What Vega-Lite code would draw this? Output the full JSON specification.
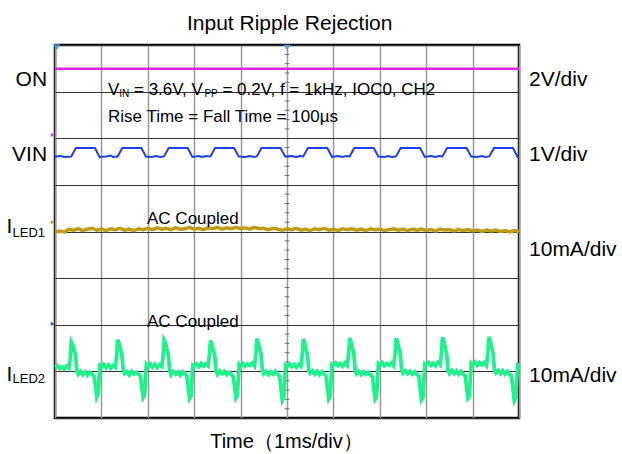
{
  "$schema": "https://vega.github.io/schema/vega-lite/v6.json",
  "width": 464,
  "height": 373,
  "autosize": {"type": "none"},
  "padding": {"left": 55, "top": 45, "right": 103, "bottom": 36},
  "background": "white",
  "config": {
    "view": {"stroke": "#000", "strokeWidth": 2.5},
    "text": {"font": "Liberation Sans", "color": "#000"}
  },
  "datasets": {
    "on": [{"t": 0, "v": 7.49}, {"t": 10, "v": 7.49}],
    "vin": [
      {"t": 0, "v": 5.61}, {"t": 0.12, "v": 5.62}, {"t": 0.2, "v": 5.6}, {"t": 0.35, "v": 5.61}, {"t": 0.45, "v": 5.79}, {"t": 0.86, "v": 5.79}, {"t": 0.96, "v": 5.6},
      {"t": 1.1, "v": 5.61}, {"t": 1.2, "v": 5.63}, {"t": 1.25, "v": 5.6}, {"t": 1.35, "v": 5.61}, {"t": 1.45, "v": 5.79}, {"t": 1.86, "v": 5.79}, {"t": 1.96, "v": 5.61},
      {"t": 2.08, "v": 5.6}, {"t": 2.18, "v": 5.62}, {"t": 2.27, "v": 5.6}, {"t": 2.35, "v": 5.61}, {"t": 2.45, "v": 5.79}, {"t": 2.86, "v": 5.79}, {"t": 2.96, "v": 5.6},
      {"t": 3.1, "v": 5.62}, {"t": 3.17, "v": 5.6}, {"t": 3.26, "v": 5.62}, {"t": 3.35, "v": 5.61}, {"t": 3.45, "v": 5.79}, {"t": 3.86, "v": 5.79}, {"t": 3.96, "v": 5.61},
      {"t": 4.1, "v": 5.6}, {"t": 4.2, "v": 5.62}, {"t": 4.28, "v": 5.6}, {"t": 4.35, "v": 5.61}, {"t": 4.45, "v": 5.79}, {"t": 4.86, "v": 5.79}, {"t": 4.96, "v": 5.61},
      {"t": 5.1, "v": 5.62}, {"t": 5.2, "v": 5.6}, {"t": 5.28, "v": 5.62}, {"t": 5.35, "v": 5.61}, {"t": 5.45, "v": 5.79}, {"t": 5.87, "v": 5.79}, {"t": 5.97, "v": 5.6},
      {"t": 6.1, "v": 5.62}, {"t": 6.2, "v": 5.6}, {"t": 6.27, "v": 5.62}, {"t": 6.35, "v": 5.61}, {"t": 6.45, "v": 5.79}, {"t": 6.87, "v": 5.79}, {"t": 6.97, "v": 5.61},
      {"t": 7.1, "v": 5.6}, {"t": 7.18, "v": 5.62}, {"t": 7.26, "v": 5.6}, {"t": 7.35, "v": 5.61}, {"t": 7.45, "v": 5.79}, {"t": 7.87, "v": 5.79}, {"t": 7.97, "v": 5.6},
      {"t": 8.1, "v": 5.62}, {"t": 8.2, "v": 5.6}, {"t": 8.28, "v": 5.62}, {"t": 8.35, "v": 5.61}, {"t": 8.45, "v": 5.79}, {"t": 8.87, "v": 5.79}, {"t": 8.97, "v": 5.61},
      {"t": 9.1, "v": 5.6}, {"t": 9.2, "v": 5.62}, {"t": 9.27, "v": 5.6}, {"t": 9.36, "v": 5.61}, {"t": 9.46, "v": 5.79}, {"t": 9.87, "v": 5.79}, {"t": 9.97, "v": 5.6}, {"t": 10, "v": 5.6}
    ],
    "i1": [
      {"t": 0.0, "v": 3.99}, {"t": 0.1, "v": 4.01}, {"t": 0.2, "v": 3.99}, {"t": 0.3, "v": 4.05}, {"t": 0.4, "v": 4.03}, {"t": 0.5, "v": 4.06}, {"t": 0.6, "v": 4.02}, {"t": 0.7, "v": 4.05}, {"t": 0.8, "v": 4.07}, {"t": 0.9, "v": 4.03},
      {"t": 1.0, "v": 4.05}, {"t": 1.1, "v": 4.02}, {"t": 1.2, "v": 4.06}, {"t": 1.3, "v": 4.04}, {"t": 1.4, "v": 4.07}, {"t": 1.5, "v": 4.03}, {"t": 1.6, "v": 4.05}, {"t": 1.7, "v": 4.02}, {"t": 1.8, "v": 4.06}, {"t": 1.9, "v": 4.04},
      {"t": 2.0, "v": 4.07}, {"t": 2.1, "v": 4.04}, {"t": 2.2, "v": 4.08}, {"t": 2.3, "v": 4.05}, {"t": 2.4, "v": 4.07}, {"t": 2.5, "v": 4.04}, {"t": 2.6, "v": 4.08}, {"t": 2.7, "v": 4.05}, {"t": 2.8, "v": 4.06}, {"t": 2.9, "v": 4.09},
      {"t": 3.0, "v": 4.05}, {"t": 3.1, "v": 4.07}, {"t": 3.2, "v": 4.04}, {"t": 3.3, "v": 4.08}, {"t": 3.4, "v": 4.06}, {"t": 3.5, "v": 4.09}, {"t": 3.6, "v": 4.05}, {"t": 3.7, "v": 4.08}, {"t": 3.8, "v": 4.06}, {"t": 3.9, "v": 4.09},
      {"t": 4.0, "v": 4.06}, {"t": 4.1, "v": 4.08}, {"t": 4.2, "v": 4.05}, {"t": 4.3, "v": 4.09}, {"t": 4.4, "v": 4.06}, {"t": 4.5, "v": 4.07}, {"t": 4.6, "v": 4.04}, {"t": 4.7, "v": 4.07}, {"t": 4.8, "v": 4.05}, {"t": 4.9, "v": 4.03},
      {"t": 5.0, "v": 4.06}, {"t": 5.1, "v": 4.04}, {"t": 5.2, "v": 4.07}, {"t": 5.3, "v": 4.03}, {"t": 5.4, "v": 4.05}, {"t": 5.5, "v": 4.02}, {"t": 5.6, "v": 4.06}, {"t": 5.7, "v": 4.04}, {"t": 5.8, "v": 4.07}, {"t": 5.9, "v": 4.03},
      {"t": 6.0, "v": 4.05}, {"t": 6.1, "v": 4.02}, {"t": 6.2, "v": 4.06}, {"t": 6.3, "v": 4.04}, {"t": 6.4, "v": 4.06}, {"t": 6.5, "v": 4.03}, {"t": 6.6, "v": 4.05}, {"t": 6.7, "v": 4.02}, {"t": 6.8, "v": 4.06}, {"t": 6.9, "v": 4.04},
      {"t": 7.0, "v": 4.05}, {"t": 7.1, "v": 4.02}, {"t": 7.2, "v": 4.04}, {"t": 7.3, "v": 4.06}, {"t": 7.4, "v": 4.03}, {"t": 7.5, "v": 4.05}, {"t": 7.6, "v": 4.02}, {"t": 7.7, "v": 4.05}, {"t": 7.8, "v": 4.03}, {"t": 7.9, "v": 4.05},
      {"t": 8.0, "v": 4.02}, {"t": 8.1, "v": 4.04}, {"t": 8.2, "v": 4.01}, {"t": 8.3, "v": 4.05}, {"t": 8.4, "v": 4.03}, {"t": 8.5, "v": 4.04}, {"t": 8.6, "v": 4.01}, {"t": 8.7, "v": 4.04}, {"t": 8.8, "v": 4.02}, {"t": 8.9, "v": 4.04},
      {"t": 9.0, "v": 4.01}, {"t": 9.1, "v": 4.03}, {"t": 9.2, "v": 4.0}, {"t": 9.3, "v": 4.03}, {"t": 9.4, "v": 4.01}, {"t": 9.5, "v": 4.03}, {"t": 9.6, "v": 4.0}, {"t": 9.7, "v": 4.02}, {"t": 9.8, "v": 3.99}, {"t": 9.9, "v": 4.02}, {"t": 10.0, "v": 4.0}
    ],
    "i2": [
      {"t": 0.0, "v": 1.09}, {"t": 0.05, "v": 1.12}, {"t": 0.10, "v": 1.06}, {"t": 0.15, "v": 1.10}, {"t": 0.20, "v": 1.05}, {"t": 0.25, "v": 1.11}, {"t": 0.30, "v": 1.07}, {"t": 0.33, "v": 1.30}, {"t": 0.35, "v": 1.63}, {"t": 0.38, "v": 1.57}, {"t": 0.41, "v": 1.46}, {"t": 0.44, "v": 1.36}, {"t": 0.47, "v": 1.02}, {"t": 0.50, "v": 0.94}, {"t": 0.55, "v": 1.00}, {"t": 0.60, "v": 0.93}, {"t": 0.65, "v": 0.99}, {"t": 0.70, "v": 0.92}, {"t": 0.75, "v": 0.98}, {"t": 0.80, "v": 0.94}, {"t": 0.84, "v": 0.90}, {"t": 0.87, "v": 0.70}, {"t": 0.90, "v": 0.45}, {"t": 0.93, "v": 0.52}, {"t": 0.95, "v": 0.86}, {"t": 0.97, "v": 1.12},
      {"t": 1.00, "v": 1.09}, {"t": 1.05, "v": 1.15}, {"t": 1.10, "v": 1.08}, {"t": 1.15, "v": 1.14}, {"t": 1.20, "v": 1.07}, {"t": 1.25, "v": 1.13}, {"t": 1.30, "v": 1.09}, {"t": 1.33, "v": 1.35}, {"t": 1.35, "v": 1.68}, {"t": 1.38, "v": 1.60}, {"t": 1.41, "v": 1.48}, {"t": 1.44, "v": 1.37}, {"t": 1.47, "v": 1.03}, {"t": 1.50, "v": 0.95}, {"t": 1.55, "v": 0.99}, {"t": 1.60, "v": 0.92}, {"t": 1.65, "v": 1.00}, {"t": 1.70, "v": 0.94}, {"t": 1.75, "v": 0.98}, {"t": 1.80, "v": 0.93}, {"t": 1.84, "v": 0.91}, {"t": 1.87, "v": 0.68}, {"t": 1.90, "v": 0.44}, {"t": 1.93, "v": 0.49}, {"t": 1.95, "v": 0.84}, {"t": 1.97, "v": 1.14},
      {"t": 2.00, "v": 1.10}, {"t": 2.05, "v": 1.16}, {"t": 2.10, "v": 1.09}, {"t": 2.15, "v": 1.15}, {"t": 2.20, "v": 1.08}, {"t": 2.25, "v": 1.14}, {"t": 2.30, "v": 1.10}, {"t": 2.33, "v": 1.33}, {"t": 2.35, "v": 1.67}, {"t": 2.38, "v": 1.61}, {"t": 2.41, "v": 1.47}, {"t": 2.44, "v": 1.38}, {"t": 2.47, "v": 1.04}, {"t": 2.50, "v": 0.93}, {"t": 2.55, "v": 1.00}, {"t": 2.60, "v": 0.94}, {"t": 2.65, "v": 0.99}, {"t": 2.70, "v": 0.92}, {"t": 2.75, "v": 0.99}, {"t": 2.80, "v": 0.95}, {"t": 2.84, "v": 0.90}, {"t": 2.87, "v": 0.66}, {"t": 2.90, "v": 0.42}, {"t": 2.93, "v": 0.47}, {"t": 2.95, "v": 0.83}, {"t": 2.97, "v": 1.13},
      {"t": 3.00, "v": 1.11}, {"t": 3.05, "v": 1.16}, {"t": 3.10, "v": 1.10}, {"t": 3.15, "v": 1.17}, {"t": 3.20, "v": 1.11}, {"t": 3.25, "v": 1.16}, {"t": 3.30, "v": 1.12}, {"t": 3.33, "v": 1.36}, {"t": 3.35, "v": 1.66}, {"t": 3.38, "v": 1.59}, {"t": 3.41, "v": 1.46}, {"t": 3.44, "v": 1.36}, {"t": 3.47, "v": 1.02}, {"t": 3.50, "v": 0.94}, {"t": 3.55, "v": 1.01}, {"t": 3.60, "v": 0.95}, {"t": 3.65, "v": 1.00}, {"t": 3.70, "v": 0.93}, {"t": 3.75, "v": 0.98}, {"t": 3.80, "v": 0.94}, {"t": 3.84, "v": 0.89}, {"t": 3.87, "v": 0.67}, {"t": 3.90, "v": 0.43}, {"t": 3.93, "v": 0.48}, {"t": 3.95, "v": 0.85}, {"t": 3.97, "v": 1.15},
      {"t": 4.00, "v": 1.12}, {"t": 4.05, "v": 1.17}, {"t": 4.10, "v": 1.11}, {"t": 4.15, "v": 1.16}, {"t": 4.20, "v": 1.13}, {"t": 4.25, "v": 1.18}, {"t": 4.30, "v": 1.12}, {"t": 4.33, "v": 1.38}, {"t": 4.35, "v": 1.70}, {"t": 4.38, "v": 1.62}, {"t": 4.41, "v": 1.49}, {"t": 4.44, "v": 1.37}, {"t": 4.47, "v": 1.03}, {"t": 4.50, "v": 0.95}, {"t": 4.55, "v": 1.00}, {"t": 4.60, "v": 0.93}, {"t": 4.65, "v": 0.99}, {"t": 4.70, "v": 0.94}, {"t": 4.75, "v": 1.00}, {"t": 4.80, "v": 0.93}, {"t": 4.84, "v": 0.90}, {"t": 4.87, "v": 0.64}, {"t": 4.90, "v": 0.38}, {"t": 4.93, "v": 0.44}, {"t": 4.95, "v": 0.82}, {"t": 4.97, "v": 1.13},
      {"t": 5.00, "v": 1.11}, {"t": 5.05, "v": 1.16}, {"t": 5.10, "v": 1.10}, {"t": 5.15, "v": 1.15}, {"t": 5.20, "v": 1.09}, {"t": 5.25, "v": 1.15}, {"t": 5.30, "v": 1.11}, {"t": 5.33, "v": 1.37}, {"t": 5.35, "v": 1.69}, {"t": 5.38, "v": 1.61}, {"t": 5.41, "v": 1.48}, {"t": 5.44, "v": 1.36}, {"t": 5.47, "v": 1.02}, {"t": 5.50, "v": 0.96}, {"t": 5.55, "v": 1.01}, {"t": 5.60, "v": 0.94}, {"t": 5.65, "v": 1.00}, {"t": 5.70, "v": 0.93}, {"t": 5.75, "v": 0.99}, {"t": 5.80, "v": 0.94}, {"t": 5.84, "v": 0.90}, {"t": 5.87, "v": 0.66}, {"t": 5.90, "v": 0.41}, {"t": 5.93, "v": 0.46}, {"t": 5.95, "v": 0.84}, {"t": 5.97, "v": 1.15},
      {"t": 6.00, "v": 1.13}, {"t": 6.05, "v": 1.18}, {"t": 6.10, "v": 1.12}, {"t": 6.15, "v": 1.17}, {"t": 6.20, "v": 1.11}, {"t": 6.25, "v": 1.18}, {"t": 6.30, "v": 1.13}, {"t": 6.33, "v": 1.40}, {"t": 6.35, "v": 1.72}, {"t": 6.38, "v": 1.63}, {"t": 6.41, "v": 1.49}, {"t": 6.44, "v": 1.38}, {"t": 6.47, "v": 1.03}, {"t": 6.50, "v": 0.95}, {"t": 6.55, "v": 1.00}, {"t": 6.60, "v": 0.93}, {"t": 6.65, "v": 0.99}, {"t": 6.70, "v": 0.94}, {"t": 6.75, "v": 0.98}, {"t": 6.80, "v": 0.92}, {"t": 6.84, "v": 0.89}, {"t": 6.87, "v": 0.65}, {"t": 6.90, "v": 0.40}, {"t": 6.93, "v": 0.45}, {"t": 6.95, "v": 0.83}, {"t": 6.97, "v": 1.16},
      {"t": 7.00, "v": 1.13}, {"t": 7.05, "v": 1.19}, {"t": 7.10, "v": 1.12}, {"t": 7.15, "v": 1.17}, {"t": 7.20, "v": 1.13}, {"t": 7.25, "v": 1.18}, {"t": 7.30, "v": 1.12}, {"t": 7.33, "v": 1.39}, {"t": 7.35, "v": 1.71}, {"t": 7.38, "v": 1.64}, {"t": 7.41, "v": 1.50}, {"t": 7.44, "v": 1.39}, {"t": 7.47, "v": 1.04}, {"t": 7.50, "v": 0.96}, {"t": 7.55, "v": 1.01}, {"t": 7.60, "v": 0.95}, {"t": 7.65, "v": 1.00}, {"t": 7.70, "v": 0.94}, {"t": 7.75, "v": 0.99}, {"t": 7.80, "v": 0.93}, {"t": 7.84, "v": 0.90}, {"t": 7.87, "v": 0.63}, {"t": 7.90, "v": 0.39}, {"t": 7.93, "v": 0.44}, {"t": 7.95, "v": 0.82}, {"t": 7.97, "v": 1.16},
      {"t": 8.00, "v": 1.14}, {"t": 8.05, "v": 1.19}, {"t": 8.10, "v": 1.13}, {"t": 8.15, "v": 1.18}, {"t": 8.20, "v": 1.12}, {"t": 8.25, "v": 1.19}, {"t": 8.30, "v": 1.14}, {"t": 8.33, "v": 1.41}, {"t": 8.35, "v": 1.73}, {"t": 8.38, "v": 1.65}, {"t": 8.41, "v": 1.51}, {"t": 8.44, "v": 1.38}, {"t": 8.47, "v": 1.04}, {"t": 8.50, "v": 0.96}, {"t": 8.55, "v": 1.02}, {"t": 8.60, "v": 0.95}, {"t": 8.65, "v": 1.01}, {"t": 8.70, "v": 0.94}, {"t": 8.75, "v": 1.00}, {"t": 8.80, "v": 0.93}, {"t": 8.84, "v": 0.91}, {"t": 8.87, "v": 0.66}, {"t": 8.90, "v": 0.42}, {"t": 8.93, "v": 0.46}, {"t": 8.95, "v": 0.84}, {"t": 8.97, "v": 1.17},
      {"t": 9.00, "v": 1.14}, {"t": 9.05, "v": 1.20}, {"t": 9.10, "v": 1.13}, {"t": 9.15, "v": 1.19}, {"t": 9.20, "v": 1.14}, {"t": 9.25, "v": 1.19}, {"t": 9.30, "v": 1.13}, {"t": 9.33, "v": 1.40}, {"t": 9.35, "v": 1.74}, {"t": 9.38, "v": 1.66}, {"t": 9.41, "v": 1.52}, {"t": 9.44, "v": 1.39}, {"t": 9.47, "v": 1.05}, {"t": 9.50, "v": 0.97}, {"t": 9.55, "v": 1.02}, {"t": 9.60, "v": 0.95}, {"t": 9.65, "v": 1.01}, {"t": 9.70, "v": 0.94}, {"t": 9.75, "v": 1.00}, {"t": 9.80, "v": 0.93}, {"t": 9.84, "v": 0.90}, {"t": 9.87, "v": 0.62}, {"t": 9.90, "v": 0.37}, {"t": 9.93, "v": 0.43}, {"t": 9.95, "v": 0.80}, {"t": 9.97, "v": 1.14}, {"t": 10.0, "v": 1.13}
    ],
    "ticks": [
      {"t": 5, "v": 0.2}, {"t": 5, "v": 0.4}, {"t": 5, "v": 0.6}, {"t": 5, "v": 0.8},
      {"t": 5, "v": 1.2}, {"t": 5, "v": 1.4}, {"t": 5, "v": 1.6}, {"t": 5, "v": 1.8},
      {"t": 5, "v": 2.2}, {"t": 5, "v": 2.4}, {"t": 5, "v": 2.6}, {"t": 5, "v": 2.8},
      {"t": 5, "v": 3.2}, {"t": 5, "v": 3.4}, {"t": 5, "v": 3.6}, {"t": 5, "v": 3.8},
      {"t": 5, "v": 4.2}, {"t": 5, "v": 4.4}, {"t": 5, "v": 4.6}, {"t": 5, "v": 4.8},
      {"t": 5, "v": 5.2}, {"t": 5, "v": 5.4}, {"t": 5, "v": 5.6}, {"t": 5, "v": 5.8},
      {"t": 5, "v": 6.2}, {"t": 5, "v": 6.4}, {"t": 5, "v": 6.6}, {"t": 5, "v": 6.8},
      {"t": 5, "v": 7.2}, {"t": 5, "v": 7.4}, {"t": 5, "v": 7.6}, {"t": 5, "v": 7.8}
    ],
    "markers": [
      {"t": -0.05, "v": 6.07, "c": "ON"},
      {"t": -0.05, "v": 4.2, "c": "ILED1"},
      {"t": -0.05, "v": 2.02, "c": "ILED2"}
    ],
    "trig": [{"t": 5, "v": 7.95, "c": "TRIG"}, {"t": 0.04, "v": 7.96, "c": "VIN"}],
    "bigR": [
      {"t": -0.17, "v": 7.11, "s": "ON"},
      {"t": -0.17, "v": 5.51, "s": "VIN"}
    ],
    "bigL": [
      {"t": 10.216, "v": 7.11, "s": "2V/div"},
      {"t": 10.216, "v": 5.52, "s": "1V/div"},
      {"t": 10.216, "v": 3.475, "s": "10mA/div"},
      {"t": 10.216, "v": 0.779, "s": "10mA/div"},
      {"t": -1.047, "v": 3.968, "s": "I"},
      {"t": -1.047, "v": 0.794, "s": "I"}
    ],
    "subBig": [
      {"t": -0.916, "v": 3.882, "s": "LED1"},
      {"t": -0.916, "v": 0.751, "s": "LED2"}
    ],
    "title": [{"t": 5.058, "v": 8.332, "s": "Input Ripple Rejection"}],
    "xlab": [{"t": 4.989, "v": -0.643, "s": "Time（1ms/div）"}],
    "mid": [
      {"t": 1.142, "v": 6.938, "s": "V"},
      {"t": 1.703, "v": 6.938, "s": "= 3.6V, V"},
      {"t": 3.608, "v": 6.938, "s": "= 0.2V, f = 1kHz, IOC0, CH2"},
      {"t": 1.142, "v": 6.349, "s": "Rise Time = Fall Time = 100µs"},
      {"t": 1.983, "v": 4.161, "s": "AC Coupled"},
      {"t": 1.983, "v": 1.962, "s": "AC Coupled"}
    ],
    "subSmall": [
      {"t": 1.386, "v": 6.874, "s": "IN"},
      {"t": 3.22, "v": 6.874, "s": "PP"}
    ]
  },
  "encoding": {
    "x": {
      "field": "t", "type": "quantitative",
      "scale": {"domain": [0, 10], "nice": false, "zero": false},
      "axis": {"values": [0, 1, 2, 3, 4, 5, 6, 7, 8, 9, 10], "grid": true, "gridColor": "#999", "gridWidth": 1.5, "labels": false, "ticks": false, "domain": false, "title": null}
    },
    "y": {
      "field": "v", "type": "quantitative",
      "scale": {"domain": [0, 8], "nice": false, "zero": false},
      "axis": {"values": [0, 1, 2, 3, 4, 5, 6, 7, 8], "grid": true, "gridColor": "#333", "gridWidth": 1, "labels": false, "ticks": false, "domain": false, "title": null}
    }
  },
  "layer": [
    {"data": {"name": "ticks"}, "mark": {"type": "tick", "orient": "horizontal", "size": 5, "thickness": 1, "color": "#444"}},
    {"data": {"name": "on"}, "mark": {"type": "line", "color": "#e020e0", "strokeWidth": 2.5}},
    {"data": {"name": "vin"}, "mark": {"type": "line", "color": "#1e40e6", "strokeWidth": 2}},
    {"data": {"name": "i1"}, "mark": {"type": "line", "color": "#bf9b1a", "strokeWidth": 3.5}},
    {"data": {"name": "i2"}, "mark": {"type": "line", "color": "#22f08c", "strokeWidth": 3.8}},
    {
      "data": {"name": "markers"},
      "mark": {"type": "point", "shape": "triangle-right", "filled": true, "size": 18, "opacity": 1},
      "encoding": {"color": {"field": "c", "type": "nominal", "scale": {"domain": ["ON", "ILED1", "ILED2"], "range": ["#d040d0", "#c09a20", "#2050e0"]}, "legend": null}}
    },
    {
      "data": {"name": "trig"},
      "mark": {"type": "point", "shape": "triangle-down", "filled": false, "size": 22, "strokeWidth": 1.2, "opacity": 1},
      "encoding": {"color": {"value": "#4a9ee8"}}
    },
    {"data": {"name": "bigR"}, "mark": {"type": "text", "align": "right", "baseline": "alphabetic", "fontSize": 21}, "encoding": {"text": {"field": "s"}}},
    {"data": {"name": "bigL"}, "mark": {"type": "text", "align": "left", "baseline": "alphabetic", "fontSize": 21}, "encoding": {"text": {"field": "s"}}},
    {"data": {"name": "subBig"}, "mark": {"type": "text", "align": "left", "baseline": "alphabetic", "fontSize": 13}, "encoding": {"text": {"field": "s"}}},
    {"data": {"name": "title"}, "mark": {"type": "text", "align": "center", "baseline": "alphabetic", "fontSize": 21}, "encoding": {"text": {"field": "s"}}},
    {"data": {"name": "xlab"}, "mark": {"type": "text", "align": "center", "baseline": "alphabetic", "fontSize": 20}, "encoding": {"text": {"field": "s"}}},
    {"data": {"name": "mid"}, "mark": {"type": "text", "align": "left", "baseline": "alphabetic", "fontSize": 17}, "encoding": {"text": {"field": "s"}}},
    {"data": {"name": "subSmall"}, "mark": {"type": "text", "align": "left", "baseline": "alphabetic", "fontSize": 10}, "encoding": {"text": {"field": "s"}}}
  ]
}
